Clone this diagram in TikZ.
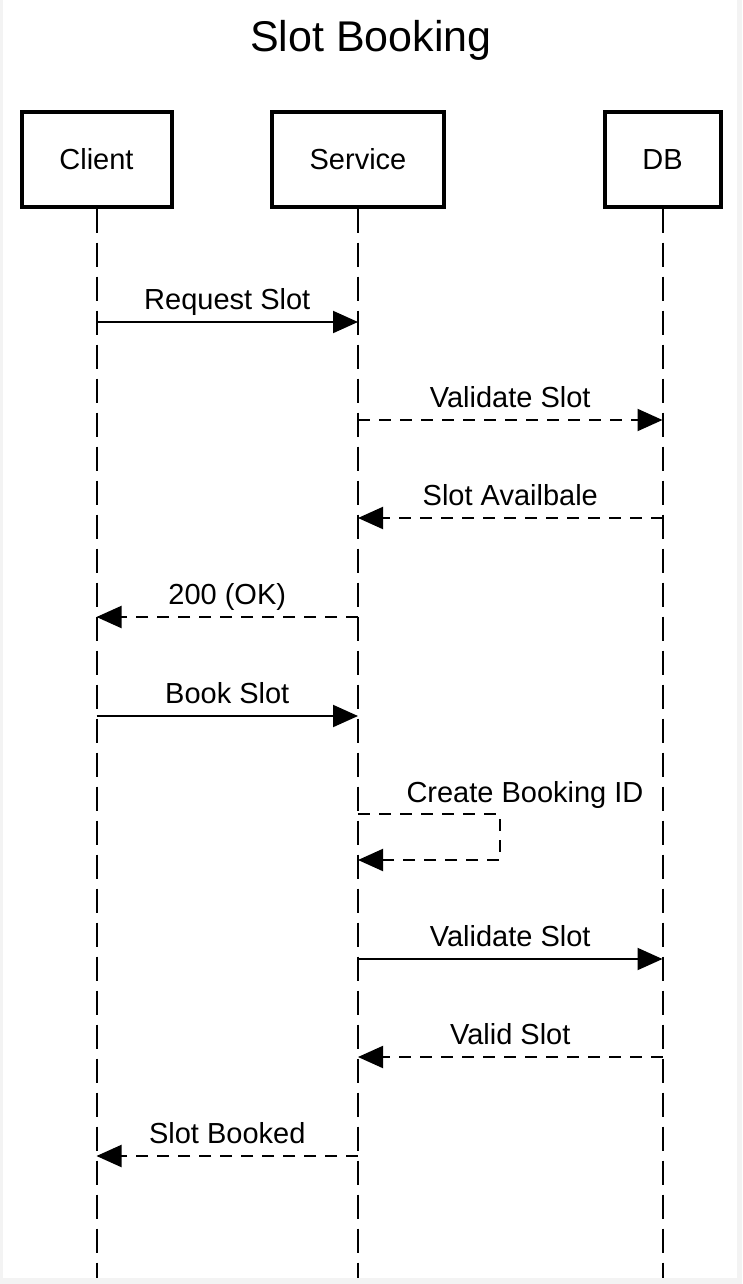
\documentclass[tikz,border=0pt]{standalone}
\usepackage{fontspec}
\setmainfont{Liberation Sans}
\usetikzlibrary{arrows.meta}
\definecolor{frame}{HTML}{F3F3F3}

\begin{document}
\begin{tikzpicture}[x=1pt,y=-1pt,
	actor/.style={draw,line width=4pt,minimum width=#1,minimum height=94pt,inner sep=0pt,font=\fontsize{29}{34}\selectfont},
	life/.style={line width=2pt,dash pattern=on 24pt off 10pt},
	call/.style={line width=2pt,-{Triangle[length=25pt,width=22pt]}},
	reply/.style={call,dash pattern=on 12pt off 9pt},
	lbl/.style={font=\fontsize{29}{34}\selectfont,anchor=base,inner sep=0pt,yshift=13pt}]
	\fill[frame] (0,0) rectangle (742,1284);
	\fill[white] (3,0) rectangle (737,1278);
	\node[font=\fontsize{43}{50}\selectfont,anchor=base] (title) at (371,52) {Slot Booking};
	\node[actor=150pt] (client) at (96.5,159.5) {Client};
	\node[actor=172pt] (service) at (358,159.5) {Service};
	\node[actor=116pt] (db) at (662.5,159.5) {DB};
	\coordinate (bot) at (0,1278);
	\draw[life] (client) -- (client |- bot);
	\draw[life] (service) -- (service |- bot);
	\draw[life] (db) -- (db |- bot);

	\coordinate (m1) at (0,322);
	\coordinate (m2) at (0,420);
	\coordinate (m3) at (0,518);
	\coordinate (m4) at (0,617);
	\coordinate (m5) at (0,716);
	\coordinate (m6) at (0,814);
	\coordinate (m7) at (0,860);
	\coordinate (m8) at (0,959);
	\coordinate (m9) at (0,1057);
	\coordinate (m10) at (0,1156);

	\draw[call] (client |- m1) -- node[lbl]{Request Slot} (service |- m1);
	\draw[reply] (service |- m2) -- node[lbl]{Validate Slot} (db |- m2);
	\draw[reply] (db |- m3) -- node[lbl]{Slot Availbale} (service |- m3);
	\draw[reply] (service |- m4) -- node[lbl]{200 (OK)} (client |- m4);
	\draw[call] (client |- m5) -- node[lbl]{Book Slot} (service |- m5);
	\draw[reply] (service |- m6) -- ++(142,0) |- (service |- m7);
	\node[lbl,yshift=-13pt] (create) at (525,802) {Create Booking ID};
	\draw[call] (service |- m8) -- node[lbl]{Validate Slot} (db |- m8);
	\draw[reply] (db |- m9) -- node[lbl]{Valid Slot} (service |- m9);
	\draw[reply] (service |- m10) -- node[lbl]{Slot Booked} (client |- m10);
\end{tikzpicture}
\end{document}
